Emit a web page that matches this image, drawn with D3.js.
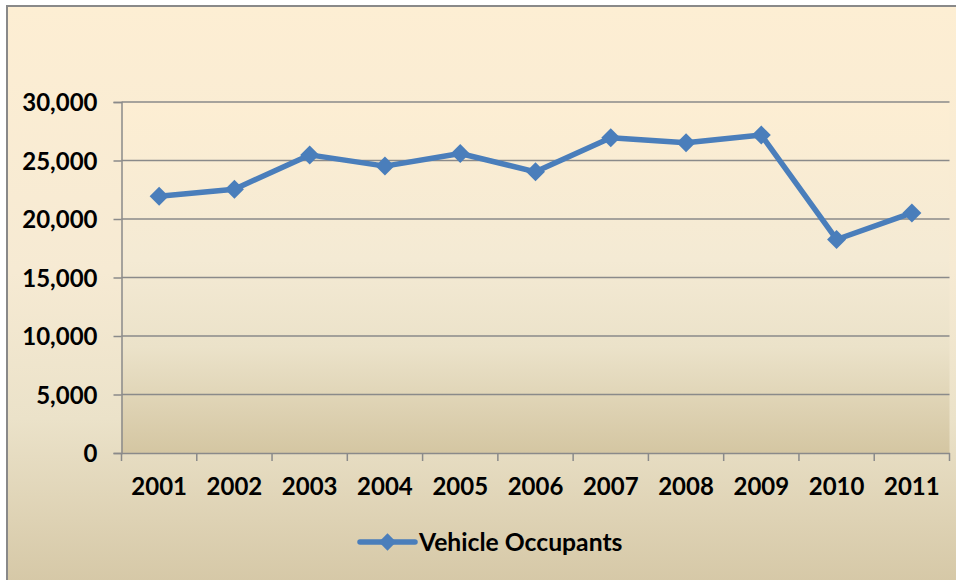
<!DOCTYPE html>
<html><head><meta charset="utf-8">
<script src="https://cdn.jsdelivr.net/npm/d3@7"></script>
<style>html,body{margin:0;padding:0;background:#fff;}svg{display:block;}</style>
</head><body>
<svg id="chart" width="956" height="580"></svg>
<script>
const years = ["2001","2002","2003","2004","2005","2006","2007","2008","2009","2010","2011"];
const occupants = [21950, 22550, 25480, 24520, 25600, 24030, 26950, 26520, 27180, 18250, 20520];
const yTicks = [0, 5000, 10000, 15000, 20000, 25000, 30000];
const seriesName = "Vehicle Occupants";

const svg = d3.select("#chart");
const W = 956, H = 580;
const plot = {left: 121.5, right: 949.5, top: 102, bottom: 453};
const font = "Lato, 'Open Sans', sans-serif";

const defs = svg.append("defs");
function grad(id, stops){
  const g = defs.append("linearGradient").attr("id", id).attr("x1",0).attr("y1",0).attr("x2",0).attr("y2",1);
  stops.forEach(s => g.append("stop").attr("offset", s[0]).attr("stop-color", s[1]));
}
grad("outerG", [[0,"#fdeed3"],[0.45,"#f6ead3"],[0.7,"#ebe2c9"],[1,"#d4c6a4"]]);
grad("plotG", [[0,"#fdeed3"],[0.45,"#f4ead4"],[0.7,"#ebe2c9"],[1,"#d4c6a2"]]);

svg.append("rect").attr("x",7).attr("y",6).attr("width",W+10).attr("height",H+10)
  .attr("fill","url(#outerG)").attr("stroke","#898989").attr("stroke-width",2);

svg.append("rect").attr("x",plot.left).attr("y",plot.top)
  .attr("width",plot.right-plot.left).attr("height",plot.bottom-plot.top)
  .attr("fill","url(#plotG)");

const x = d3.scaleBand().domain(years).range([plot.left, plot.right]).padding(0);
const y = d3.scaleLinear().domain([0, 30000]).range([plot.bottom, plot.top]);

// gridlines
svg.append("g").selectAll("line").data(yTicks.filter(d=>d>0)).join("line")
  .attr("x1", plot.left).attr("x2", plot.right)
  .attr("y1", d=>y(d)).attr("y2", d=>y(d))
  .attr("stroke","#8a8a8a").attr("stroke-width",1.5);

// y axis
const yAxis = svg.append("g").attr("transform",`translate(${plot.left},0)`)
  .call(d3.axisLeft(y).tickValues(yTicks).tickSize(8).tickPadding(16).tickFormat(d3.format(",")));
yAxis.select(".domain").attr("stroke","#8a8a8a").attr("stroke-width",1.5);
yAxis.selectAll(".tick line").attr("stroke","#8a8a8a").attr("stroke-width",1.5);
yAxis.selectAll("text").attr("font-family",font).attr("font-weight","bold").attr("font-size",24).attr("fill","#000").attr("dy","0.36em");

// x axis
const xAxis = svg.append("g").attr("transform",`translate(0,${plot.bottom})`)
  .call(d3.axisBottom(x).tickSize(0).tickPadding(25));
xAxis.select(".domain").attr("stroke","#8a8a8a").attr("stroke-width",1.5);
xAxis.selectAll("text").attr("font-family",font).attr("font-weight","bold").attr("font-size",24).attr("fill","#000");
const bounds = years.map(d=>x(d)).concat([x.range()[1]]);
svg.append("g").selectAll("line").data(bounds).join("line")
  .attr("x1",d=>d).attr("x2",d=>d).attr("y1",plot.bottom).attr("y2",plot.bottom+8)
  .attr("stroke","#8a8a8a").attr("stroke-width",1.5);

// series line
const cx = d => x(d) + x.bandwidth()/2;
const blue = "#4a7ebb";
const line = d3.line().x((d,i)=>cx(years[i])).y(d=>y(d));
svg.append("path").datum(occupants).attr("d",line)
  .attr("fill","none").attr("stroke",blue).attr("stroke-width",5.5).attr("stroke-linejoin","round");
const diamond = d3.symbol().type(d3.symbolDiamond2).size(230);
svg.append("g").selectAll("path").data(occupants).join("path")
  .attr("transform",(d,i)=>`translate(${cx(years[i])},${y(d)})`)
  .attr("d",diamond).attr("fill",blue);

// legend
const lg = svg.append("g").attr("transform","translate(360,542)");
lg.append("line").attr("x1",0).attr("x2",55).attr("y1",0).attr("y2",0)
  .attr("stroke",blue).attr("stroke-width",5.5).attr("stroke-linecap","round");
lg.append("path").attr("transform","translate(27.5,0)").attr("d",d3.symbol().type(d3.symbolDiamond2).size(190)).attr("fill",blue);
lg.append("text").attr("x",59).attr("y",0).attr("dy","0.35em")
  .attr("font-family",font).attr("font-weight","bold").attr("font-size",24.7).attr("fill","#000").text(seriesName);
</script>
</body></html>
